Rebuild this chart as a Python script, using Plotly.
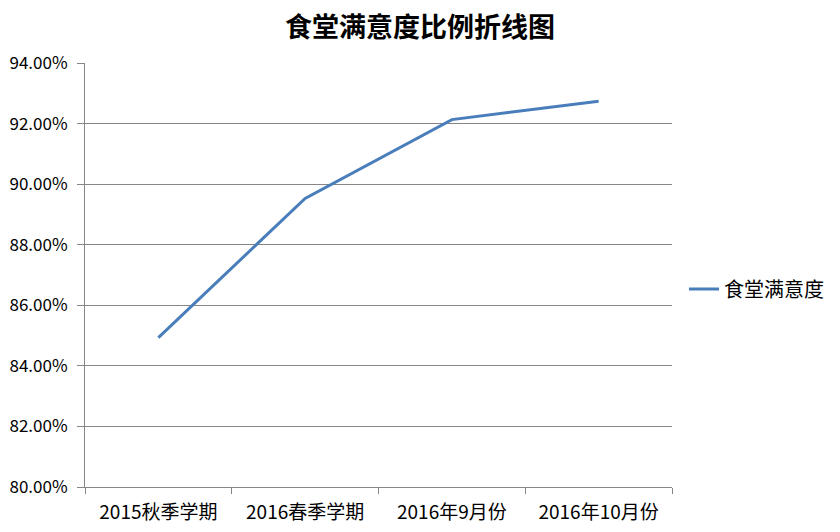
import plotly.graph_objects as go

categories = ["2015秋季学期", "2016春季学期", "2016年9月份", "2016年10月份"]
satisfaction = [0.8493, 0.8953, 0.9213, 0.9274]
series_name = "食堂满意度"
title_text = "食堂满意度比例折线图"

CJK = "Noto Sans CJK SC"
GRID = "#868686"

fig = go.Figure()
fig.add_trace(go.Scatter(
    x=categories, y=satisfaction, name=series_name, mode="lines",
    line=dict(color="#4a7ebb", width=3),
))

fig.update_layout(
    width=840, height=532,
    margin=dict(l=85, r=168, t=63, b=45),
    paper_bgcolor="white", plot_bgcolor="white",
    font=dict(family=CJK, color="#000000"),
    title=dict(text=f"<b>{title_text}</b>", x=420 / 840, xanchor="center",
               xref="container", yref="container",
               y=1 - 28 / 532, yanchor="middle",
               font=dict(size=27, family=CJK, color="#000000")),
    showlegend=True,
    legend=dict(xref="container", yref="container",
                x=684 / 840, xanchor="left", y=1 - 289 / 532, yanchor="middle",
                font=dict(size=20, family=CJK, color="#000000"),
                bgcolor="rgba(0,0,0,0)"),
    xaxis=dict(type="category", range=[-0.5, 3.5], automargin=False,
               showgrid=False, showline=True, linecolor=GRID,
               linewidth=1, ticks="outside", tickson="boundaries", ticklen=6,
               tickcolor=GRID, tickfont=dict(size=19, family=CJK, color="#000000"),
               ticklabelstandoff=8, zeroline=False),
    yaxis=dict(range=[0.80, 0.94], dtick=0.02, tick0=0.80, tickformat=".2%",
               automargin=False,
               showgrid=True, gridcolor=GRID, gridwidth=1, showline=True,
               linecolor=GRID, linewidth=1, ticks="outside", ticklen=7,
               tickcolor=GRID, tickfont=dict(size=17, family=CJK, color="#000000"),
               ticklabelstandoff=6, zeroline=False),
)

fig.write_html("out.html", config={"displayModeBar": False},
               post_script="document.body.style.margin='0';")
